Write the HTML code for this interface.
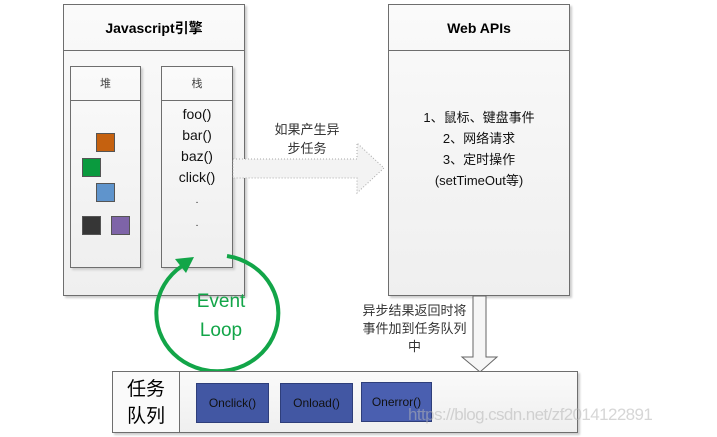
<!DOCTYPE html><html><head><meta charset="utf-8"><style>
body{margin:0;width:717px;height:437px;background:#fff;position:relative;overflow:hidden;font-family:"Liberation Sans","Noto Sans CJK SC",sans-serif}
.a{position:absolute;box-sizing:border-box}
.box{border:1px solid #6e6e6e;background:linear-gradient(#fafafa,#efefef);box-shadow:2px 2px 2px #ccc}
.btn{position:absolute;box-sizing:border-box;background:#4257a3;border:1px solid #2e3e7a;color:#111;font-size:12px;text-align:center;line-height:38px}
.sq{position:absolute;width:17px;height:17px;border:1px solid #555}
</style></head><body>
<div class="a box" style="left:63px;top:4px;width:182px;height:292px"></div>
<div class="a" style="left:63px;top:4px;width:182px;height:47px;border:1px solid #6e6e6e;line-height:46px;text-align:center;font-weight:bold;font-size:14px">Javascript引擎</div>
<div class="a box" style="left:70px;top:66px;width:71px;height:202px"></div>
<div class="a" style="left:70px;top:66px;width:71px;height:35px;border:1px solid #6e6e6e;text-align:center;line-height:34px;font-size:11px;color:#444">堆</div>
<div class="a box" style="left:161px;top:66px;width:72px;height:202px"></div>
<div class="a" style="left:161px;top:66px;width:72px;height:35px;border:1px solid #6e6e6e;text-align:center;line-height:34px;font-size:11px;color:#444">栈</div>
<div class="a" style="left:161px;top:104px;width:72px;text-align:center;font-size:14px;line-height:21px;color:#111">foo()<br>bar()<br>baz()<br>click()<br><span style="font-size:10px">.</span><br><span style="font-size:10px">.</span></div>
<div class="sq" style="left:96px;top:133px;background:#c5610f"></div>
<div class="sq" style="left:82px;top:158px;background:#0a9a3e"></div>
<div class="sq" style="left:96px;top:183px;background:#5f94cc"></div>
<div class="sq" style="left:82px;top:216px;background:#363636"></div>
<div class="sq" style="left:111px;top:216px;background:#7e64a8"></div>
<div class="a box" style="left:388px;top:4px;width:182px;height:292px"></div>
<div class="a" style="left:388px;top:4px;width:182px;height:47px;border:1px solid #6e6e6e;line-height:46px;text-align:center;font-weight:bold;font-size:14px">Web APIs</div>
<div class="a" style="left:388px;top:107px;width:182px;text-align:center;font-size:13px;line-height:21px;color:#111">1、鼠标、键盘事件<br>2、网络请求<br>3、定时操作<br>(setTimeOut等)</div>
<svg class="a" style="left:0;top:0" width="717" height="437">
<polygon points="233,159 357,159 357,143 384,168 357,193 357,178 233,178" fill="#f3f3f3" stroke="#aaa" stroke-dasharray="1,2"/>
<polygon points="473,296 486,296 486,357 497,357 480,372 462,357 473,357" fill="#f6f6f6" stroke="#666"/>
<path d="M227,256 A61,58 0 1 1 182,266" fill="none" stroke="#12a548" stroke-width="4"/>
<polygon points="194,257 175,259 186,273" fill="#12a548"/>
</svg>
<div class="a" style="left:262px;top:120px;width:90px;text-align:center;font-size:13px;line-height:19px;color:#333">如果产生异<br>步任务</div>
<div class="a" style="left:176px;top:287px;width:90px;text-align:center;font-size:19px;line-height:29px;color:#12a548">Event<br>Loop</div>
<div class="a" style="left:352px;top:302px;width:125px;text-align:center;font-size:13px;line-height:18px;color:#333">异步结果返回时将<br>事件加到任务队列<br>中</div>
<div class="a box" style="left:112px;top:371px;width:466px;height:62px"></div>
<div class="a" style="left:112px;top:371px;width:68px;height:62px;border:1px solid #6e6e6e;background:#fafafa;text-align:center;font-size:19px;line-height:27px;padding-top:4px">任务<br>队列</div>
<div class="btn" style="left:196px;top:383px;width:73px;height:40px">Onclick()</div>
<div class="btn" style="left:280px;top:383px;width:73px;height:40px">Onload()</div>
<div class="btn" style="left:361px;top:382px;width:71px;height:40px;background:#4a5fb0">Onerror()</div>
<div class="a" style="left:408px;top:405px;font-size:17px;letter-spacing:-0.6px;color:rgba(180,180,180,.55)">https://blog.csdn.net/zf2014122891</div>
</body></html>
